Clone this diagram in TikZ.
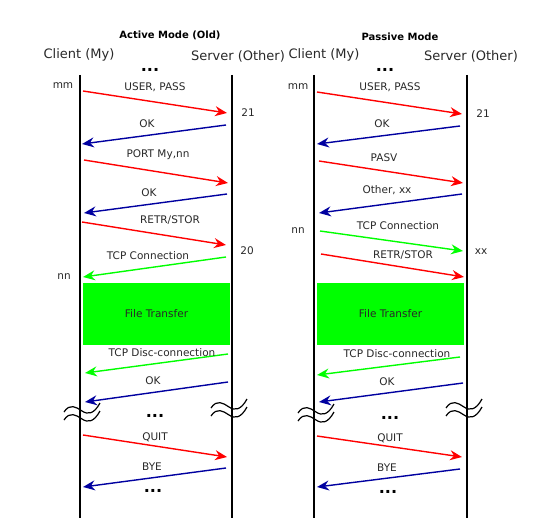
\documentclass[tikz,border=0pt]{standalone}
\usepackage{fontspec}
\setmainfont{DejaVu Sans}
\usetikzlibrary{arrows.meta}
\definecolor{msgred}{RGB}{255,0,0}
\definecolor{msgblue}{RGB}{0,0,160}
\definecolor{msggreen}{RGB}{0,255,0}
\definecolor{txt}{RGB}{40,40,40}
\begin{document}
\begin{tikzpicture}[x=1pt,y=-1pt,
  lifeline/.style={line width=1.8pt,black},
  msg/.style={line width=1.4pt,-{Stealth[length=12pt,width=10pt,inset=4pt]}},
  lbl/.style={font=\fontsize{10.5}{12}\selectfont,text=txt,inner sep=0pt},
  hdr/.style={font=\fontsize{13}{15}\selectfont,text=txt,inner sep=0pt},
  ttl/.style={font=\bfseries\fontsize{10}{12}\selectfont,inner sep=0pt},
  dotsn/.style={font=\bfseries\fontsize{16}{16}\selectfont,inner sep=0pt},
  xferbox/.style={fill=msggreen,draw=none,minimum width=147pt,minimum height=62pt,font=\fontsize{10.5}{12}\selectfont,text=txt,inner sep=0pt},
  wavy/.style={line width=1.2pt,black}
]
\useasboundingbox (0,0) rectangle (557,527);
\tikzset{brk/.pic={
  \draw[wavy] (-18,0) .. controls (-12,-9) and (-6,-5) .. (0,-1) .. controls (6,3) and (12,2) .. (18,-9);
  \draw[wavy] (-18,8) .. controls (-12,-1) and (-6,3) .. (0,7) .. controls (6,11) and (12,10) .. (18,-1);
}}

% ===== Active mode =====
\node[ttl] (t1) at (170,35) {Active Mode (Old)};
\node[hdr] (h1c) at (79,55) {Client (My)};
\node[hdr] (h1s) at (238,56) {Server (Other)};
\coordinate (c1t) at (80,75); \coordinate (c1b) at (80,518);
\coordinate (s1t) at (232,75); \coordinate (s1b) at (232,518);
\draw[lifeline] (c1t) -- (c1b);
\draw[lifeline] (s1t) -- (s1b);
\node[dotsn] (d1a) at (150,70) {...};
\node[lbl] (p1mm) at (63,86) {mm};
\node[lbl] (p121) at (248,113) {21};
\node[lbl] (p120) at (247,251) {20};
\node[lbl] (p1nn) at (64,277) {nn};

\coordinate (a1s) at (83,91);  \coordinate (a1e) at (227,113);
\draw[msg,msgred] (a1s) -- (a1e);
\node[lbl] (l1a) at (155,87) {USER, PASS};
\coordinate (a2s) at (226,125); \coordinate (a2e) at (82,144);
\draw[msg,msgblue] (a2s) -- (a2e);
\node[lbl] (l1b) at (147,124) {OK};
\coordinate (a3s) at (84,160); \coordinate (a3e) at (228,183);
\draw[msg,msgred] (a3s) -- (a3e);
\node[lbl] (l1c) at (158,155) {PORT My,nn};
\coordinate (a4s) at (227,194); \coordinate (a4e) at (84,213);
\draw[msg,msgblue] (a4s) -- (a4e);
\node[lbl] (l1d) at (149,193) {OK};
\coordinate (a5s) at (82,222); \coordinate (a5e) at (226,245);
\draw[msg,msgred] (a5s) -- (a5e);
\node[lbl] (l1e) at (170,220) {RETR/STOR};
\coordinate (a6s) at (226,257); \coordinate (a6e) at (83,277);
\draw[msg,msggreen] (a6s) -- (a6e);
\node[lbl] (l1f) at (148,256) {TCP Connection};
\node[xferbox] (ft1) at (156.5,314) {File Transfer};
\coordinate (a7s) at (228,354); \coordinate (a7e) at (85,373);
\draw[msg,msggreen] (a7s) -- (a7e);
\node[lbl] (l1g) at (162,353) {TCP Disc-connection};
\coordinate (a8s) at (228,382); \coordinate (a8e) at (85,402);
\draw[msg,msgblue] (a8s) -- (a8e);
\node[lbl] (l1h) at (153,381) {OK};
\pic at (82,412) {brk};
\pic at (229,408) {brk};
\node[dotsn] (d1b) at (155,416) {...};
\coordinate (a9s) at (83,435); \coordinate (a9e) at (227,457);
\draw[msg,msgred] (a9s) -- (a9e);
\node[lbl] (l1i) at (155,437) {QUIT};
\coordinate (a10s) at (226,468); \coordinate (a10e) at (83,487);
\draw[msg,msgblue] (a10s) -- (a10e);
\node[lbl] (l1j) at (152,467) {BYE};
\node[dotsn] (d1c) at (153,491) {...};

% ===== Passive mode =====
\node[ttl] (t2) at (400,37) {Passive Mode};
\node[hdr] (h2c) at (324,55) {Client (My)};
\node[hdr] (h2s) at (471,56) {Server (Other)};
\coordinate (c2t) at (314,75); \coordinate (c2b) at (314,518);
\coordinate (s2t) at (467,75); \coordinate (s2b) at (467,518);
\draw[lifeline] (c2t) -- (c2b);
\draw[lifeline] (s2t) -- (s2b);
\node[dotsn] (d2a) at (385,70) {...};
\node[lbl] (p2mm) at (298,87) {mm};
\node[lbl] (p221) at (483,114) {21};
\node[lbl] (p2nn) at (298,231) {nn};
\node[lbl] (p2xx) at (481,252) {xx};

\coordinate (b1s) at (317,92);  \coordinate (b1e) at (462,114);
\draw[msg,msgred] (b1s) -- (b1e);
\node[lbl] (l2a) at (390,87) {USER, PASS};
\coordinate (b2s) at (460,126); \coordinate (b2e) at (317,144);
\draw[msg,msgblue] (b2s) -- (b2e);
\node[lbl] (l2b) at (382,124) {OK};
\coordinate (b3s) at (319,161); \coordinate (b3e) at (463,183);
\draw[msg,msgred] (b3s) -- (b3e);
\node[lbl] (l2c) at (384,158) {PASV};
\coordinate (b4s) at (462,194); \coordinate (b4e) at (319,213);
\draw[msg,msgblue] (b4s) -- (b4e);
\node[lbl] (l2d) at (387,190) {Other, xx};
\coordinate (b5s) at (320,231); \coordinate (b5e) at (463,251);
\draw[msg,msggreen] (b5s) -- (b5e);
\node[lbl] (l2e) at (398,226) {TCP Connection};
\coordinate (b6s) at (321,254); \coordinate (b6e) at (464,277);
\draw[msg,msgred] (b6s) -- (b6e);
\node[lbl] (l2f) at (403,255) {RETR/STOR};
\node[xferbox] (ft2) at (390.5,314) {File Transfer};
\coordinate (b7s) at (460,357); \coordinate (b7e) at (317,375);
\draw[msg,msggreen] (b7s) -- (b7e);
\node[lbl] (l2g) at (397,354) {TCP Disc-connection};
\coordinate (b8s) at (463,383); \coordinate (b8e) at (319,402);
\draw[msg,msgblue] (b8s) -- (b8e);
\node[lbl] (l2h) at (387,382) {OK};
\pic at (316,413) {brk};
\pic at (464,408) {brk};
\node[dotsn] (d2b) at (390,418) {...};
\coordinate (b9s) at (317,436); \coordinate (b9e) at (462,457);
\draw[msg,msgred] (b9s) -- (b9e);
\node[lbl] (l2i) at (390,438) {QUIT};
\coordinate (b10s) at (460,469); \coordinate (b10e) at (317,487);
\draw[msg,msgblue] (b10s) -- (b10e);
\node[lbl] (l2j) at (387,468) {BYE};
\node[dotsn] (d2c) at (388,492) {...};
\end{tikzpicture}
\end{document}
